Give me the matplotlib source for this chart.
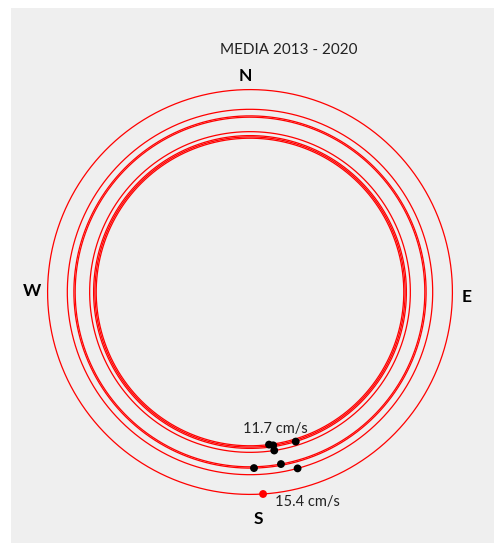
import numpy as np
import matplotlib
matplotlib.use('Agg')
import matplotlib.pyplot as plt
from matplotlib.patches import Rectangle

# Velocidad media (cm/s) y direccion (grados, desde el Norte en sentido horario)
velocidad = [11.7, 11.8, 12.2, 11.9, 13.4, 13.3, 13.9, 15.4]
direccion = [172.9, 171.4, 171.3, 163.0, 178.7, 169.8, 164.9, 176.3]
colores = ['black'] * 7 + ['red']
titulo = 'MEDIA 2013 - 2020'
puntos_cardinales = ['N', 'E', 'S', 'W']

plt.rcParams['font.family'] = ['Lato', 'DejaVu Sans']

fig = plt.figure(figsize=(4.94, 5.43), dpi=100)
W, H = 494, 543

# fondo gris del grafico
fig.patches.append(Rectangle((11 / W, 0), 1 - 11 / W, 1 - 8 / H,
                             transform=fig.transFigure, facecolor='#efefef',
                             edgecolor='none', zorder=-5))

# centro (250, 292) px, radio 210 px para r = 16
cx, cy, R = 250, 292, 210.3
ax = fig.add_axes([(cx - R) / W, (H - cy - R) / H, 2 * R / W, 2 * R / H],
                  projection='polar')
ax.set_zorder(2)
ax.set_facecolor('none')
ax.set_theta_zero_location('N')
ax.set_theta_direction(-1)
ax.set_ylim(0, 16)
ax.grid(False)
ax.set_xticks([])
ax.set_yticks([])
ax.xaxis.set_visible(False)
ax.yaxis.set_visible(False)
for s in ax.spines.values():
    s.set_visible(False)

ang = np.radians(direccion)
# circulo de cada velocidad, empezando en su propia direccion
for v, a in zip(velocidad, ang):
    theta = np.linspace(0, 2 * np.pi, 721) + a
    ax.plot(theta, np.full_like(theta, v), color='red', lw=0.9, zorder=2)

ax.scatter(ang, velocidad, c=colores, s=32, zorder=3, edgecolors='none')

i_min = int(np.argmin(velocidad))
i_max = int(np.argmax(velocidad))
ax.annotate(f'{velocidad[i_min]} cm/s', (ang[i_min], velocidad[i_min]),
            xytext=(6, 16), textcoords='offset pixels', ha='center',
            va='center', fontsize=10.5, color='#222222')
ax.annotate(f'{velocidad[i_max]} cm/s', (ang[i_max], velocidad[i_max]),
            xytext=(44, -8), textcoords='offset pixels', ha='center',
            va='center', fontsize=10.5, color='#222222')

fig.text(289 / W, 1 - 50 / H, titulo, ha='center', va='center', fontsize=11,
         color='#222222')
pos = {'N': (245, 76), 'E': (467, 297), 'S': (258, 519), 'W': (32, 291)}
for p in puntos_cardinales:
    x, y = pos[p]
    fig.text(x / W, 1 - y / H, p, ha='center', va='center', fontsize=12.5,
             fontweight='bold', color='black')

fig.savefig('out.png', dpi=100)
